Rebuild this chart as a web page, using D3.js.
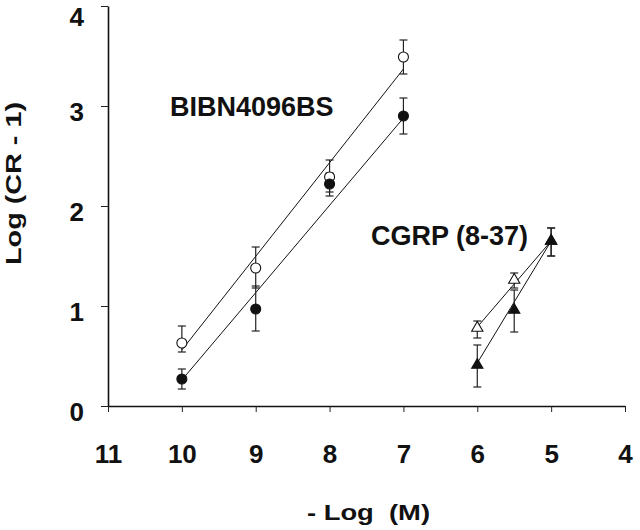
<!DOCTYPE html>
<html><head><meta charset="utf-8">
<script src="https://cdn.jsdelivr.net/npm/d3@7/dist/d3.min.js"></script>
<style>html,body{margin:0;padding:0;background:#fff;}svg{display:block;}</style>
</head><body>
<svg id="chart" width="640" height="530"></svg>
<script>
// ---- data ----
const xTicks = [11, 10, 9, 8, 7, 6, 5, 4];
const yTicks = [0, 1, 2, 3, 4];

const bibnX = [10, 9, 8, 7];
const bibnOpen = [0.63, 1.38, 2.29, 3.49];
const bibnOpenLo = [0.54, 1.18, 2.14, 3.32];
const bibnOpenHi = [0.80, 1.59, 2.46, 3.66];
const bibnFilled = [0.27, 0.97, 2.22, 2.90];
const bibnFilledLo = [0.17, 0.75, 2.10, 2.72];
const bibnFilledHi = [0.37, 1.20, 2.33, 3.08];
const bibnFitX = [10, 7];
const bibnFitOpen = [0.56, 3.37];
const bibnFitFilled = [0.26, 2.88];

const cgrpX = [6, 5.5, 5];
const cgrpOpen = [0.78, 1.26, 1.65];
const cgrpOpenLo = [0.68, 1.18, 1.50];
const cgrpOpenHi = [0.85, 1.33, 1.78];
const cgrpFilled = [0.41, 0.96, 1.65];
const cgrpFilledLo = [0.19, 0.74, 1.50];
const cgrpFilledHi = [0.61, 1.16, 1.78];
const cgrpFitX = [6, 5];
const cgrpFitOpen = [0.79, 1.65];
const cgrpFitFilled = [0.43, 1.65];

const labelBibn = "BIBN4096BS";
const labelCgrp = "CGRP (8-37)";
const xTitle = "- Log  (M)";
const yTitle = "Log (CR - 1)";

// ---- drawing ----
const svg = d3.select("#chart");
const font = "'Liberation Sans', Arial, Helvetica, sans-serif";
const x = d3.scaleLinear().domain([11, 4]).range([108, 625]);
const y = d3.scaleLinear().domain([0, 4]).range([406, 6]);

// axes
const xAxis = svg.append("g").attr("transform", `translate(0,${y(0)})`)
  .call(d3.axisBottom(x).tickValues(xTicks).tickSize(6).tickFormat(d3.format("d")).tickSizeOuter(0));
const yAxis = svg.append("g").attr("transform", `translate(${x(11)},0)`)
  .call(d3.axisLeft(y).tickValues(yTicks).tickSize(7).tickFormat(d3.format("d")).tickSizeOuter(0));
[xAxis, yAxis].forEach(g => {
  g.select(".domain").attr("stroke", "#111").attr("stroke-width", 1.6);
  g.selectAll(".tick line").attr("stroke", "#222").attr("stroke-width", 1);
  g.selectAll("text").attr("font-family", font).attr("font-weight", "bold")
    .attr("font-size", 26).attr("fill", "#111");
});
xAxis.selectAll(".tick text").attr("y", 57).attr("dy", 0);
yAxis.selectAll(".tick text").attr("x", -24).attr("dy", 0)
  .attr("y", d => Math.max(y(d) + 14, 25) - y(d));

// titles
svg.append("text").attr("x", 307).attr("y", 520)
  .attr("font-family", font).attr("font-weight", "bold").attr("font-size", 22)
  .attr("textLength", 123).attr("lengthAdjust", "spacingAndGlyphs")
  .attr("fill", "#111").attr("xml:space", "preserve").style("white-space", "pre").text(xTitle);
svg.append("text").attr("transform", "translate(21,265) rotate(-90)")
  .attr("font-family", font).attr("font-weight", "bold").attr("font-size", 22)
  .attr("textLength", 163).attr("lengthAdjust", "spacingAndGlyphs")
  .attr("fill", "#111").text(yTitle);

// annotations
svg.append("text").attr("x", 170).attr("y", 116).attr("font-family", font)
  .attr("font-weight", "bold").attr("font-size", 27).attr("fill", "#111").text(labelBibn);
svg.append("text").attr("x", 371).attr("y", 245).attr("font-family", font)
  .attr("font-weight", "bold").attr("font-size", 27).attr("fill", "#111").text(labelCgrp);

// fit lines
const line = d3.line().x(d => x(d[0])).y(d => y(d[1]));
function fit(xs, ys) {
  svg.append("path").datum(xs.map((v, i) => [v, ys[i]])).attr("d", line)
    .attr("fill", "none").attr("stroke", "#111").attr("stroke-width", 1);
}
fit(bibnFitX, bibnFitOpen);
fit(bibnFitX, bibnFitFilled);
fit(cgrpFitX, cgrpFitOpen);
fit(cgrpFitX, cgrpFitFilled);

// error bars
function errBars(xs, lo, hi) {
  const g = svg.append("g").attr("stroke", "#222").attr("stroke-width", 1.2);
  xs.forEach((v, i) => {
    const cx = x(v);
    g.append("line").attr("x1", cx).attr("x2", cx).attr("y1", y(lo[i])).attr("y2", y(hi[i]));
    g.append("line").attr("x1", cx - 4).attr("x2", cx + 4).attr("y1", y(lo[i])).attr("y2", y(lo[i]));
    g.append("line").attr("x1", cx - 4).attr("x2", cx + 4).attr("y1", y(hi[i])).attr("y2", y(hi[i]));
  });
}
errBars(bibnX, bibnOpenLo, bibnOpenHi);
errBars(bibnX, bibnFilledLo, bibnFilledHi);
errBars(cgrpX, cgrpOpenLo, cgrpOpenHi);
errBars(cgrpX, cgrpFilledLo, cgrpFilledHi);

// markers
function circles(xs, ys, filled) {
  svg.append("g").selectAll("circle").data(xs.map((v, i) => [v, ys[i]])).join("circle")
    .attr("cx", d => x(d[0])).attr("cy", d => y(d[1])).attr("r", 5)
    .attr("fill", filled ? "#111" : "#fff").attr("stroke", "#111").attr("stroke-width", 1.1);
}
const tri = d3.symbol().type(d3.symbolTriangle).size(55);
function triangles(xs, ys, filled) {
  svg.append("g").selectAll("path").data(xs.map((v, i) => [v, ys[i]])).join("path")
    .attr("d", tri).attr("transform", d => `translate(${x(d[0])},${y(d[1])})`)
    .attr("fill", filled ? "#111" : "#fff").attr("stroke", "#111").attr("stroke-width", 1.1);
}
circles(bibnX, bibnOpen, false);
circles(bibnX, bibnFilled, true);
triangles(cgrpX, cgrpOpen, false);
triangles(cgrpX, cgrpFilled, true);
</script>
</body></html>
